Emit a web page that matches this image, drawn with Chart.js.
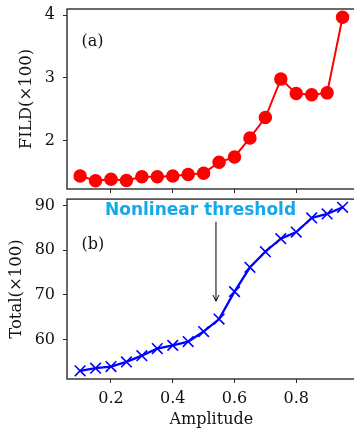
<!DOCTYPE html>
<html>
<head>
<meta charset="utf-8">
<script src="https://cdn.jsdelivr.net/npm/chart.js@4"></script>
<style>
    html, body { margin: 0; padding: 0; background: #fff; overflow: hidden; }
    #wrap { position: relative; width: 354px; height: 431px; overflow: hidden; }
    canvas { position: absolute; left: 0; }
    #fild-chart { top: 0; }
    #total-chart { top: 190px; }
</style>
</head>
<body>
<div id="wrap">
    <canvas id="fild-chart" width="380" height="199"></canvas>
    <canvas id="total-chart" width="380" height="241"></canvas>
</div>
<script>
// Data
const amplitude = [0.10, 0.15, 0.20, 0.25, 0.30, 0.35, 0.40, 0.45, 0.50,
                   0.55, 0.60, 0.65, 0.70, 0.75, 0.80, 0.85, 0.90, 0.95];
const fild = [1.43, 1.354, 1.38, 1.36, 1.42, 1.42, 1.43, 1.455, 1.476,
              1.65, 1.735, 2.04, 2.365, 2.98, 2.75, 2.73, 2.76, 3.97];
const total = [53.0, 53.6, 53.96, 55.0, 56.4, 58.0, 58.7, 59.55, 61.8,
               64.6, 70.75, 76.2, 79.7, 82.6, 84.1, 87.25, 88.15, 89.65];

// Tick labels
const xTicks = [0.2, 0.4, 0.6, 0.8];
const fildTicks = [2, 3, 4];
const totalTicks = [60, 70, 80, 90];

// Annotation: arrow tail/tip and text anchor in data units
const arrowTail = [0.54, 86.4];
const arrowTip = [0.54, 68.6];
const noteAnchor = [0.49, 87.9];
const noteText = 'Nonlinear threshold';

const SERIF = '"DejaVu Serif", serif';
const FRAME = '#2b2b2b';

// matplotlib style 5% margins
function padded(values) {
    const lo = Math.min(...values), hi = Math.max(...values);
    const m = (hi - lo) * 0.05;
    return [lo - m, hi + m];
}

function points(ys) {
    return amplitude.map((x, i) => ({ x: x, y: ys[i] }));
}

// Box around the plot area plus the panel tag
const framePlugin = {
    id: 'frame',
    afterDatasetsDraw(chart, args, opts) {
        const { ctx, chartArea: a } = chart;
        ctx.save();
        ctx.strokeStyle = FRAME;
        ctx.lineWidth = 1.4;
        ctx.strokeRect(a.left, a.top, a.right - a.left, a.bottom - a.top);
        ctx.fillStyle = '#111';
        ctx.font = '16px ' + SERIF;
        ctx.textAlign = 'left';
        ctx.textBaseline = 'middle';
        ctx.fillText(opts.tag, a.left + 0.05 * (a.right - a.left),
                     a.top + opts.tagY * (a.bottom - a.top));
        ctx.restore();
    }
};

const notePlugin = {
    id: 'note',
    afterDatasetsDraw(chart) {
        if (!chart.options.plugins.note.show) return;
        const { ctx, scales } = chart;
        const x0 = scales.x.getPixelForValue(arrowTail[0]);
        const y0 = scales.y.getPixelForValue(arrowTail[1]);
        const x1 = scales.x.getPixelForValue(arrowTip[0]);
        const y1 = scales.y.getPixelForValue(arrowTip[1]);
        ctx.save();
        ctx.strokeStyle = '#000';
        ctx.lineWidth = 1;
        ctx.beginPath();
        ctx.moveTo(x0, y0);
        ctx.lineTo(x1, y1);
        // open arrow head
        const ang = Math.atan2(y1 - y0, x1 - x0);
        const len = 7, spread = 0.45;
        ctx.moveTo(x1 - len * Math.cos(ang - spread), y1 - len * Math.sin(ang - spread));
        ctx.lineTo(x1, y1);
        ctx.lineTo(x1 - len * Math.cos(ang + spread), y1 - len * Math.sin(ang + spread));
        ctx.stroke();

        ctx.fillStyle = '#15a9e9';
        ctx.font = 'bold 17px "DejaVu Sans", sans-serif';
        ctx.textAlign = 'center';
        ctx.textBaseline = 'alphabetic';
        ctx.fillText(noteText, scales.x.getPixelForValue(noteAnchor[0]),
                     scales.y.getPixelForValue(noteAnchor[1]));
        ctx.restore();
    }
};

// Force scale sizes so both panels line up
function fixSize(prop, size) {
    return function(scale) {
        scale[prop] = size;
        scale.paddingTop = 0;
        scale.paddingBottom = 0;
        scale.paddingLeft = 0;
        scale.paddingRight = 0;
    };
}

function setTicks(values) {
    return function(scale) {
        scale.ticks = values.map(v => ({ value: v }));
    };
}

function makePanel(canvasId, cfg) {
    const [xMin, xMax] = padded(amplitude);
    const [yMin, yMax] = padded(cfg.values);
    const ctx = document.getElementById(canvasId).getContext('2d');
    return new Chart(ctx, {
        type: 'scatter',
        data: {
            datasets: [{
                data: points(cfg.values),
                showLine: true,
                borderColor: cfg.color,
                backgroundColor: cfg.color,
                borderWidth: cfg.lineWidth,
                pointStyle: cfg.marker,
                pointRadius: cfg.markerSize,
                pointBorderWidth: cfg.markerBorder,
                pointBorderColor: cfg.color,
                pointBackgroundColor: cfg.color,
                clip: false
            }]
        },
        options: {
            responsive: false,
            animation: false,
            devicePixelRatio: 1,
            layout: { padding: { left: 0, top: 9, right: 24.3, bottom: 0 } },
            plugins: {
                legend: { display: false },
                tooltip: { enabled: false },
                frame: { tag: cfg.tag, tagY: cfg.tagY },
                note: { show: cfg.note }
            },
            scales: {
                x: {
                    type: 'linear',
                    min: xMin,
                    max: xMax,
                    afterBuildTicks: setTicks(xTicks),
                    afterFit: fixSize('height', cfg.xHeight),
                    border: { display: false },
                    grid: { drawOnChartArea: false, tickLength: 4, color: FRAME },
                    ticks: {
                        display: cfg.xLabels,
                        padding: 6,
                        color: '#111',
                        font: { family: SERIF, size: 16 },
                        callback: v => v.toFixed(1)
                    },
                    title: {
                        display: cfg.xLabels,
                        text: 'Amplitude',
                        color: '#111',
                        font: { family: SERIF, size: 16 },
                        padding: { top: 0, bottom: 1.5 }
                    }
                },
                y: {
                    type: 'linear',
                    min: yMin,
                    max: yMax,
                    afterBuildTicks: setTicks(cfg.ticks),
                    afterFit: fixSize('width', 67),
                    border: { display: false },
                    grid: { drawOnChartArea: false, tickLength: 4, color: FRAME },
                    ticks: {
                        padding: 8,
                        color: '#111',
                        font: { family: SERIF, size: 16 },
                        callback: v => String(v)
                    },
                    title: {
                        display: true,
                        text: cfg.yTitle,
                        color: '#111',
                        font: { family: SERIF, size: 16.5 },
                        padding: { top: cfg.yTitlePad, bottom: 0 }
                    }
                }
            }
        },
        plugins: [framePlugin, notePlugin]
    });
}

makePanel('fild-chart', {
    values: fild,
    ticks: fildTicks,
    color: '#ff0000',
    lineWidth: 2,
    marker: 'circle',
    markerSize: 6,
    markerBorder: 1.5,
    tag: '(a)',
    tagY: 0.185,
    yTitle: 'FILD(×100)',
    yTitlePad: 17.2,
    xLabels: false,
    xHeight: 10,
    note: false
});

makePanel('total-chart', {
    values: total,
    ticks: totalTicks,
    color: '#0000ff',
    lineWidth: 2.3,
    marker: 'crossRot',
    markerSize: 7.5,
    markerBorder: 1.6,
    tag: '(b)',
    tagY: 0.255,
    yTitle: 'Total(×100)',
    yTitlePad: 7.2,
    xLabels: true,
    xHeight: 52,
    note: true
});
</script>
</body>
</html>
